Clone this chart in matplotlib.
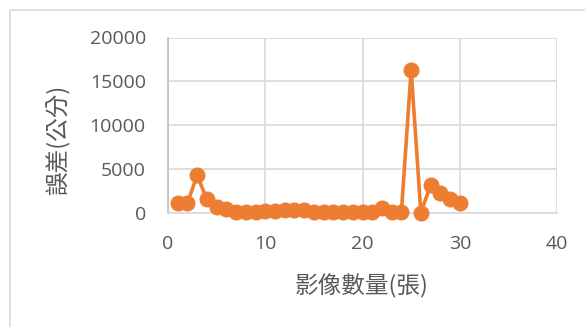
import matplotlib.pyplot as plt
from matplotlib.patches import Rectangle

# data
images = list(range(1, 31))
errors = [1150, 1150, 4300, 1550, 700, 400, 150, 100, 150, 200,
          250, 300, 300, 300, 100, 100, 100, 100, 100, 100,
          100, 550, 100, 100, 16300, 50, 3150, 2250, 1650, 1100]
x_ticks = [0, 10, 20, 30, 40]
y_ticks = [0, 5000, 10000, 15000, 20000]

W, H = 585, 327
fig = plt.figure(figsize=(W / 100, H / 100), dpi=100)
ax = fig.add_axes([168 / W, 1 - 213 / H, (557 - 168) / W, (213 - 37.5) / H])

# chart area border (only left/top edges inside the picture)
fig.patches.append(Rectangle((9.5 / W, -0.2), 1.5, 1.2 - 9.5 / H,
                             transform=fig.transFigure, fill=False,
                             edgecolor='#d9d9d9', linewidth=1.2))

ax.plot(images, errors, color='#ED7D31', linewidth=2.6, marker='o',
        markersize=10.5, clip_on=False, zorder=3)

ax.set_xlim(0, 40)
ax.set_ylim(0, 20000)
ax.set_xticks(x_ticks)
ax.set_yticks(y_ticks)
ax.grid(True, color='#d9d9d9', linewidth=1.2)
ax.set_axisbelow(True)
for s in ['top', 'right']:
    ax.spines[s].set_visible(False)
ax.spines['left'].set_color('#bfbfbf')
ax.spines['bottom'].set_color('#d9d9d9')
ax.spines['left'].set_linewidth(1.2)
ax.spines['bottom'].set_linewidth(1.2)
ax.tick_params(length=0, labelsize=14, labelcolor='#595959')
ax.tick_params(axis='y', pad=16)
ax.tick_params(axis='x', pad=16)
for lab in ax.get_xticklabels() + ax.get_yticklabels():
    lab.set_family(['Open Sans', 'DejaVu Sans'])

cjk = ['Noto Sans CJK TC', 'DejaVu Sans']
fig.text(362 / W, 1 - 286 / H, '影像數量(張)', fontsize=17, color='#595959',
         family=cjk, ha='center', va='center')
fig.text(58 / W, 1 - 140 / H, '誤差(公分)', fontsize=17, color='#595959',
         family=cjk, ha='center', va='center', rotation=90)

fig.savefig('out.png', dpi=100, facecolor='white')
